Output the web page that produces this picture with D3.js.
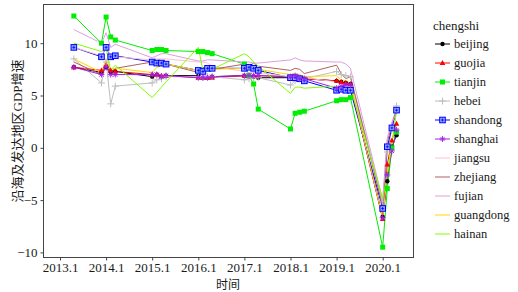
<!DOCTYPE html>
<html>
<head>
<meta charset="utf-8">
<script src="https://cdn.jsdelivr.net/npm/d3@7"></script>
<style>
  body { margin: 0; background: #fff; }
  svg { display: block; }
</style>
</head>
<body>
<script>
// chart size
const W = 518, H = 292;
const panel = {left: 43, top: 4, width: 370, height: 253};
const serif = "'Liberation Serif', 'Times New Roman', Times, serif";
const cjk = "'Liberation Serif', 'Noto Sans CJK SC', serif";

// time points (year.quarter)
const times = [2013.4, 2014.0, 2014.1, 2014.2, 2014.3,
  2015.1, 2015.2, 2015.3, 2015.4, 2016.1, 2016.2, 2016.3, 2016.4,
  2017.1, 2017.2, 2017.3, 2017.4, 2018.1, 2018.2, 2018.3, 2018.4,
  2019.1, 2019.2, 2019.3, 2019.4, 2020.1, 2020.2, 2020.3, 2020.4];

const xTicks = [2013.1, 2014.1, 2015.1, 2016.1, 2017.1, 2018.1, 2019.1, 2020.1];
const yTicks = [-10, -5, 0, 5, 10];

// series values
const beijing   = [7.7, 7.2, 7.7, 7.2, 7.3, 6.8, 7.0, 6.8, 6.9, 6.9, 6.7, 6.7, 6.8, 6.9, 6.8, 6.8, 6.7, 6.7, 6.8, 6.7, 6.6, 6.4, 6.3, 6.2, 6.1, -6.6, -3.2, 0.1, 1.2];
const guojia    = [7.7, 7.4, 7.9, 7.4, 7.3, 7.0, 7.0, 6.9, 6.9, 6.7, 6.7, 6.7, 6.7, 6.9, 6.9, 6.9, 6.9, 6.8, 6.8, 6.7, 6.6, 6.4, 6.3, 6.2, 6.1, -6.8, -1.6, 0.7, 2.3];
const tianjin   = [12.6, 10.0, 12.5, 10.6, 10.3, 9.3, 9.4, 9.4, 9.3, 9.2, 9.2, 9.1, 9.0, 8.0, 6.9, 6.1, 3.7, 1.8, 3.3, 3.4, 3.5, 4.5, 4.6, 4.6, 4.8, -9.5, -3.9, 0.0, 1.5];
const hebei     = [8.5, 6.2, 8.2, 4.2, 5.9, 6.2, 6.5, 6.6, 6.8, 6.8, 6.7, 6.8, 6.8, 6.5, 6.6, 6.7, 6.7, 6.0, 6.4, 6.6, 6.6, 7.3, 7.0, 6.9, 6.8, -5.1, -0.4, 1.8, 4.0];
const shandong  = [9.6, 8.7, 9.6, 8.7, 8.8, 8.2, 8.1, 8.1, 8.0, 7.4, 7.3, 7.6, 7.6, 7.6, 7.7, 7.6, 7.4, 6.7, 6.7, 6.6, 6.4, 5.5, 5.6, 5.5, 5.5, -5.8, 0.1, 1.9, 3.6];
const shanghai  = [7.7, 7.0, 7.7, 7.0, 7.0, 7.0, 7.0, 6.8, 6.9, 6.7, 6.7, 6.7, 6.8, 6.9, 6.9, 6.9, 6.9, 6.8, 6.9, 6.6, 6.6, 5.7, 5.9, 6.0, 6.0, -6.7, -2.6, -0.3, 1.7];
const jiangsu   = [9.6, 8.8, 9.6, 8.8, 8.7, 8.4, 8.5, 8.5, 8.5, 8.2, 8.2, 8.1, 7.8, 7.3, 7.2, 7.2, 7.2, 6.8, 6.7, 6.7, 6.7, 6.3, 6.2, 6.1, 6.1, -5.0, 0.9, 2.5, 3.7];
const zhejiang  = [8.2, 7.0, 8.2, 7.2, 7.6, 8.2, 8.3, 8.1, 8.0, 7.2, 7.7, 7.5, 7.5, 8.0, 7.8, 8.1, 7.8, 7.4, 7.6, 7.5, 7.1, 7.9, 7.1, 6.6, 6.8, -5.6, 0.5, 2.3, 3.6];
const fujian    = [11.3, 10.0, 11.0, 9.6, 9.9, 8.6, 8.8, 9.0, 9.0, 8.3, 8.3, 8.4, 8.4, 8.2, 8.2, 8.1, 8.1, 8.4, 8.6, 8.4, 8.3, 8.2, 8.2, 8.0, 7.6, -5.0, 0.9, 2.4, 3.3];
const guangdong = [8.5, 7.2, 8.5, 7.5, 7.6, 7.2, 7.7, 7.8, 8.0, 7.4, 7.4, 7.4, 7.5, 7.6, 7.8, 7.6, 7.5, 7.0, 7.1, 7.0, 6.8, 6.9, 6.5, 6.4, 6.2, -6.7, -2.5, 0.7, 2.3];
const hainan    = [10.0, 9.2, 9.5, 7.4, 7.9, 4.8, 5.3, 5.8, 6.3, 9.6, 7.4, 7.3, 7.5, 9.0, 8.7, 8.2, 7.8, 5.2, 5.8, 5.8, 5.7, 5.9, 5.8, 5.8, 5.8, -4.9, -2.6, 0.4, 3.5];

const names = ["beijing", "guojia", "tianjin", "hebei", "shandong", "shanghai",
  "jiangsu", "zhejiang", "fujian", "guangdong", "hainan"];
const values = [beijing, guojia, tianjin, hebei, shandong, shanghai,
  jiangsu, zhejiang, fujian, guangdong, hainan];
const colors = ["#000000", "#ff0000", "#00ee00", "#bebebe", "#0000ff", "#a020f0",
  "#ffc0cb", "#b06060", "#dda0dd", "#ffd700", "#7fff00"];
const shapes = ["circle", "triangle", "square", "plus", "boxcross", "asterisk",
  null, null, null, null, null];

const series = names.map((n, i) => ({
  name: n, color: colors[i], shape: shapes[i],
  points: times.map((t, j) => ({t: t, v: values[i][j]}))
}));

const svg = d3.select("body").append("svg")
  .attr("width", W).attr("height", H)
  .attr("font-family", serif);

const x = d3.scaleLinear()
  .domain([2013.1, 2020.1])
  .range([60, 382.7]);
const y = d3.scaleLinear()
  .domain([-10, 10])
  .range([252.4, 43.2]);

// draw one marker shape at (0,0)
function marker(g, shape, color) {
  if (shape === "circle") {
    g.append("circle").attr("r", 2.2).attr("fill", color);
  } else if (shape === "triangle") {
    g.append("path").attr("d", "M0,-3L2.8,2L-2.8,2Z").attr("fill", color);
  } else if (shape === "square") {
    g.append("rect").attr("x", -2.5).attr("y", -2.5).attr("width", 5).attr("height", 5).attr("fill", color);
  } else if (shape === "plus") {
    g.append("path").attr("d", "M-3.5,0H3.5M0,-3.5V3.5").attr("stroke", color).attr("stroke-width", 1);
  } else if (shape === "boxcross") {
    g.append("rect").attr("x", -2.8).attr("y", -2.8).attr("width", 5.6).attr("height", 5.6)
      .attr("fill", "#8fa8ff").attr("stroke", color).attr("stroke-width", 1);
    g.append("path").attr("d", "M-1.5,0H1.5M0,-1.5V1.5").attr("stroke", color).attr("stroke-width", 0.8);
  } else if (shape === "asterisk") {
    g.append("path").attr("d", "M-3,0H3M0,-3V3M-2.1,-2.1L2.1,2.1M-2.1,2.1L2.1,-2.1")
      .attr("stroke", color).attr("stroke-width", 0.9);
  }
}

const plot = svg.append("g");
plot.append("defs").append("clipPath").attr("id", "clip")
  .append("rect").attr("x", panel.left).attr("y", panel.top)
  .attr("width", panel.width).attr("height", panel.height);

const line = d3.line().x(d => x(d.t)).y(d => y(d.v));

const lines = plot.append("g").attr("clip-path", "url(#clip)");
series.forEach(s => {
  lines.append("path")
    .datum(s.points)
    .attr("fill", "none")
    .attr("stroke", s.color)
    .attr("stroke-width", 1)
    .attr("d", line);
});
series.forEach(s => {
  if (!s.shape) return;
  s.points.forEach(p => {
    const g = lines.append("g").attr("transform", `translate(${x(p.t)},${y(p.v)})`);
    marker(g, s.shape, s.color);
  });
});

// panel border
svg.append("rect")
  .attr("x", panel.left + 0.5).attr("y", panel.top + 0.5)
  .attr("width", panel.width).attr("height", panel.height)
  .attr("fill", "none").attr("stroke", "#444").attr("stroke-width", 1);

// axes
const xAxis = svg.append("g")
  .attr("transform", `translate(0,${panel.top + panel.height + 0.5})`)
  .call(d3.axisBottom(x).tickValues(xTicks).tickFormat(d3.format(".1f")).tickSize(3).tickSizeOuter(0));
const yAxis = svg.append("g")
  .attr("transform", `translate(${panel.left + 0.5},0)`)
  .call(d3.axisLeft(y).tickValues(yTicks).tickFormat(d => d < 0 ? "\u2212" + Math.abs(d) : d).tickSize(3).tickSizeOuter(0));
[xAxis, yAxis].forEach(a => {
  a.attr("font-family", serif).attr("font-size", 13);
  a.select(".domain").remove();
  a.selectAll(".tick line").attr("stroke", "#444");
  a.selectAll(".tick text").attr("fill", "#1a1a1a");
});
xAxis.selectAll(".tick text").attr("y", 5).attr("dy", "0.75em");

// axis titles
svg.append("text")
  .attr("x", 228).attr("y", 289)
  .attr("text-anchor", "middle")
  .attr("font-family", cjk).attr("font-size", 12)
  .attr("fill", "#1a1a1a")
  .text("时间");
svg.append("text")
  .attr("transform", "translate(17,131) rotate(-90)")
  .attr("text-anchor", "middle")
  .attr("dy", "0.35em")
  .attr("font-family", cjk).attr("font-size", 13)
  .attr("fill", "#1a1a1a")
  .text("沿海及发达地区GDP增速");

// legend
const legend = svg.append("g").attr("transform", "translate(433,25)")
  .attr("font-family", serif);
legend.append("text").attr("x", 0).attr("y", 0).attr("dy", "0.35em")
  .attr("font-size", 13).attr("fill", "#1a1a1a").text("chengshi");
series.forEach((s, i) => {
  const row = legend.append("g").attr("transform", `translate(0,${19 + i * 19})`);
  row.append("line").attr("x1", 2).attr("x2", 17).attr("y1", 0).attr("y2", 0)
    .attr("stroke", s.color).attr("stroke-width", 1);
  if (s.shape) {
    const g = row.append("g").attr("transform", "translate(9.5,0)");
    marker(g, s.shape, s.color);
  }
  row.append("text").attr("x", 21).attr("y", 0).attr("dy", "0.35em")
    .attr("font-size", 12.5).attr("fill", "#1a1a1a").text(s.name);
});
</script>
</body>
</html>
